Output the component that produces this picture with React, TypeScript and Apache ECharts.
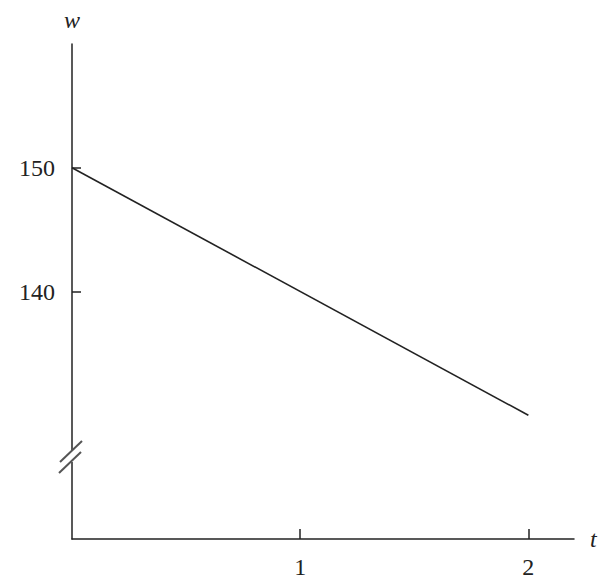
import React, { useEffect, useRef } from 'react';
import * as echarts from 'echarts';

// line w(t)
const times = [0, 2];
const weights = [150, 130];

// labelled ticks
const tTicks = [1, 2];
const wTicks = [140, 150];

const ink = '#222';
const font = '"Liberation Serif", "DejaVu Serif", serif';

const App: React.FC = () => {
  const chartRef = useRef<HTMLDivElement>(null);

  useEffect(() => {
    if (!chartRef.current) return;
    const chart = echarts.init(chartRef.current, undefined, { renderer: 'svg' });

    chart.setOption({
      animation: false,
      grid: { left: 72, top: 44, width: 502, height: 495, containLabel: false },
      xAxis: {
        type: 'value',
        min: 0,
        max: 2.2,
        name: 't',
        nameLocation: 'end',
        nameGap: 16,
        nameTextStyle: { fontFamily: font, fontStyle: 'italic', fontSize: 24, color: ink },
        axisLine: { lineStyle: { color: ink, width: 1.5 } },
        axisTick: { show: true, inside: true, length: 10, customValues: tTicks, lineStyle: { color: ink, width: 1.5 } },
        axisLabel: { customValues: tTicks, margin: 16, fontFamily: font, fontSize: 24, color: ink },
        splitLine: { show: false },
      },
      yAxis: {
        type: 'value',
        min: 120,
        max: 160,
        name: 'w',
        nameLocation: 'end',
        nameGap: 12,
        nameTextStyle: { fontFamily: font, fontStyle: 'italic', fontSize: 24, color: ink, align: 'center' },
        axisLine: { show: true, lineStyle: { color: ink, width: 1.5 } },
        axisTick: { show: true, inside: true, length: 9, customValues: wTicks, lineStyle: { color: ink, width: 1.5 } },
        axisLabel: { customValues: wTicks, margin: 17, fontFamily: font, fontSize: 24, color: ink },
        splitLine: { show: false },
      },
      series: [
        {
          type: 'line',
          data: times.map((t, i) => [t, weights[i]]),
          symbol: 'none',
          lineStyle: { color: ink, width: 1.6 },
        },
      ],
      // axis break marks on the w axis
      graphic: [
        { type: 'rect', shape: { x: 68, y: 451, width: 8, height: 11 }, style: { fill: '#fff' }, z: 100 },
        { type: 'line', shape: { x1: 60, y1: 462, x2: 82, y2: 441 }, style: { stroke: '#555', lineWidth: 2 }, z: 101 },
        { type: 'line', shape: { x1: 59, y1: 473, x2: 81, y2: 452 }, style: { stroke: '#555', lineWidth: 2 }, z: 101 },
      ],
    });

    return () => chart.dispose();
  }, []);

  return (
    <div
      ref={chartRef}
      style={{ position: 'absolute', left: 0, top: 0, width: 616, height: 586, background: '#fff' }}
    />
  );
};

export default App;
